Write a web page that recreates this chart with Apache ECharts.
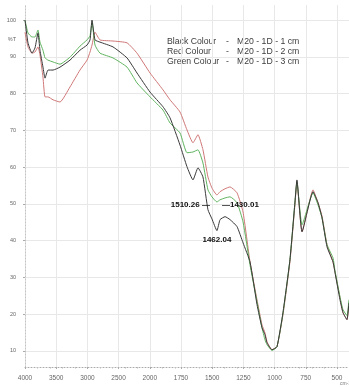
<!DOCTYPE html>
<html>
<head>
<meta charset="utf-8">
<script src="https://cdn.jsdelivr.net/npm/echarts@6/dist/echarts.min.js"></script>
<style>
  html, body { margin: 0; padding: 0; background: #fff; }
  #chart { width: 349px; height: 387px; }
</style>
</head>
<body>
<div id="chart"></div>
<script>
const xTickLabels = ['4000', '3500', '3000', '2500', '2000', '1750', '1500', '1250', '1000', '750', '500'];
const yTicks = [10, 20, 30, 40, 50, 60, 70, 80, 90, 100];

// wavenumbers in cm-1, shared by the three spectra
const wavenumbers = [4000, 3952, 3888, 3840, 3792, 3760, 3712, 3679, 3631, 3551, 3439, 3279, 3119, 3006, 2958, 2926, 2878, 2798, 2590, 2365,
  2205, 1998, 1894, 1838, 1758, 1702, 1654, 1614, 1574, 1534, 1502, 1462, 1437, 1397, 1357, 1301, 1253, 1197, 1141, 1101,
  1077, 1061, 1021, 981, 933, 877, 837, 821, 780, 692, 652, 620, 580, 532, 516, 476, 452, 420, 404];

// %T
const black = [100.0, 93.8, 91.0, 92.4, 96.5, 91.8, 87.2, 84.2, 86.4, 86.4, 87.2, 89.1, 91.8, 93.2, 94.6, 100.0, 94.6, 94.0, 92.7, 89.7,
  85.6, 80.4, 76.4, 73.4, 66.0, 60.1, 56.5, 59.8, 57.3, 48.4, 45.9, 42.7, 45.7, 46.5, 45.7, 43.8, 39.4, 34.2, 22.6, 16.3,
  14.4, 12.2, 10.3, 11.1, 20.4, 34.8, 50.3, 56.5, 42.4, 53.3, 50.3, 46.2, 38.3, 34.2, 31.3, 23.9, 20.4, 18.5, 23.1];
const red = [96.7, 92.7, 91.0, 91.3, 92.7, 90.5, 84.5, 79.1, 79.1, 78.3, 77.7, 81.8, 86.4, 89.1, 91.3, 93.2, 96.7, 94.6, 94.3, 93.8,
  91.0, 85.6, 81.0, 78.3, 75.0, 70.1, 66.6, 68.8, 64.7, 57.3, 54.3, 52.4, 53.3, 54.1, 54.6, 53.0, 47.8, 34.2, 23.9, 17.1,
  14.9, 12.5, 10.3, 11.1, 19.8, 34.2, 49.7, 56.0, 42.4, 53.8, 50.3, 46.7, 38.9, 34.2, 31.5, 24.5, 20.4, 18.5, 22.6];
const green = [100.0, 96.5, 95.4, 95.4, 97.3, 94.0, 91.8, 89.7, 89.1, 88.6, 88.0, 89.9, 92.9, 94.6, 95.7, 99.5, 93.2, 91.0, 89.7, 87.2,
  82.9, 79.1, 75.5, 72.0, 69.3, 63.9, 64.1, 64.7, 61.1, 53.8, 51.9, 50.5, 51.1, 51.6, 51.9, 50.3, 45.1, 33.4, 23.4, 16.3,
  13.0, 11.7, 10.1, 11.1, 20.1, 34.8, 50.5, 56.0, 44.3, 53.0, 49.7, 46.2, 38.9, 35.3, 31.8, 24.7, 21.2, 19.6, 23.9];

const peaks = [
  { wn: 1510.26, t: 49.7, side: 'left', text: '1510.26 —' },
  { wn: 1430.01, t: 49.7, side: 'right', text: '—1430.01' },
  { wn: 1462.04, t: 40.2, side: 'inside', text: '1462.04' }
];

const legendRows = [
  ['Black Colour', 'M20 - 1D - 1 cm'],
  ['Red Colour', 'M20 - 1D - 2 cm'],
  ['Green Colour', 'M20 - 1D - 3 cm']
];

// the x scale halves at 2000 cm-1: 500 per step above, 250 per step below
function toPos(wn) {
  return wn >= 2000 ? (4000 - wn) / 500 : 4 + (2000 - wn) / 250;
}

function toSeries(name, values, color, z) {
  return {
    name: name,
    type: 'line',
    data: wavenumbers.map((wn, i) => [toPos(wn), values[i]]),
    showSymbol: false,
    smooth: 0.15,
    lineStyle: { width: 1, color: color },
    itemStyle: { color: color },
    z: z
  };
}

const font = "'Liberation Sans', Arial, sans-serif";
const myChart = echarts.init(document.getElementById('chart'));

const series = [
  toSeries('Red', red, '#cf7777', 2),
  toSeries('Green', green, '#5fb35f', 3),
  toSeries('Black', black, '#3a3a3a', 4)
];
series[2].markPoint = {
  symbol: 'circle',
  symbolSize: 0,
  silent: true,
  data: peaks.map(p => ({
    coord: [toPos(p.wn), p.t],
    label: {
      show: true,
      position: p.side,
      distance: 1,
      formatter: p.text,
      color: '#111',
      fontSize: 8,
      fontWeight: 'bold',
      fontFamily: font
    }
  }))
};

const graphic = [];
legendRows.forEach((row, i) => {
  const y = 42 + i * 10;
  graphic.push({ type: 'text', left: 167, top: y - 5, style: { text: row[0], fontSize: 8.7, fontFamily: font, fill: '#3c3c3c' } });
  graphic.push({ type: 'text', left: 226, top: y - 5, style: { text: '-', fontSize: 8.7, fontFamily: font, fill: '#3c3c3c' } });
  graphic.push({ type: 'text', left: 237, top: y - 5, style: { text: row[1], fontSize: 8.7, fontFamily: font, fill: '#3c3c3c' } });
});
graphic.push({ type: 'text', left: 340, top: 381, style: { text: 'cm-1', fontSize: 5, fontFamily: font, fill: '#777' } });

const option = {
  animation: false,
  backgroundColor: '#fff',
  grid: { left: 25, right: 0, top: 5, bottom: 20 },
  xAxis: {
    type: 'value',
    min: 0,
    max: 10.385,
    axisLine: { show: true, lineStyle: { color: '#aaa', width: 1, type: [1, 2] } },
    axisTick: { show: true, length: 2, customValues: [0, 1, 2, 3, 4, 5, 6, 7, 8, 9, 10], lineStyle: { color: '#aaa' } },
    minorTick: { show: true, splitNumber: 5, length: 1.5, lineStyle: { color: '#bbb' } },
    axisLabel: {
      customValues: [0, 1, 2, 3, 4, 5, 6, 7, 8, 9, 10],
      formatter: v => xTickLabels[Math.round(v)],
      fontSize: 6.5, color: '#666', margin: 8, fontFamily: font
    },
    splitLine: { show: true, lineStyle: { color: '#e8e8e8', width: 1 } }
  },
  yAxis: {
    type: 'value',
    min: 5.6,
    max: 104.1,
    axisLine: { show: true, lineStyle: { color: '#c4c4c4', width: 1, type: [1, 2] } },
    axisTick: { show: true, length: 2, customValues: yTicks, lineStyle: { color: '#aaa' } },
    axisLabel: {
      customValues: yTicks.concat([94.6]),
      formatter: v => (v === 94.6 ? '%T' : String(v)),
      fontSize: 5.5, color: '#666', margin: 9, fontFamily: font
    },
    splitLine: { show: true, lineStyle: { color: '#e8e8e8', width: 1 } }
  },
  graphic: graphic,
  series: series
};
myChart.setOption(option);
</script>
</body>
</html>
